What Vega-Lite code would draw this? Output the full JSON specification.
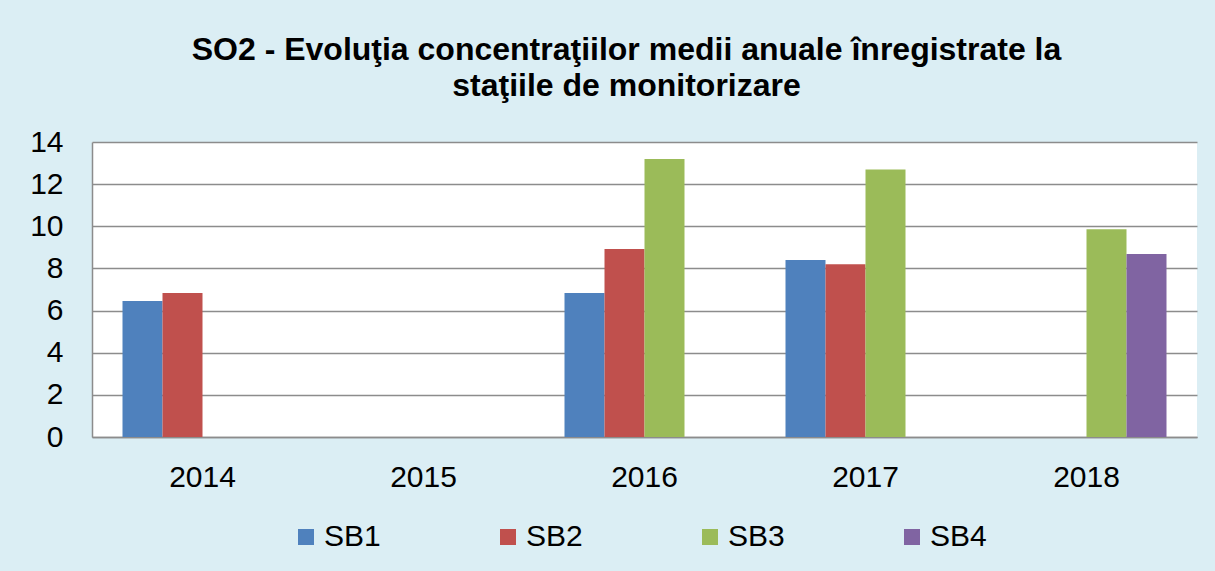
{
  "$schema": "https://vega.github.io/schema/vega-lite/v6.json",
  "autosize": {"type": "none"},
  "width": 1105,
  "height": 295,
  "padding": {"left": 92, "top": 142, "right": 18, "bottom": 134},
  "background": "#DBEEF4",
  "title": {
    "text": ["SO2 - Evoluţia concentraţiilor medii anuale înregistrate la", "staţiile de monitorizare"],
    "font": "Liberation Sans",
    "fontSize": 32,
    "fontWeight": "bold",
    "color": "#000000",
    "anchor": "middle",
    "dx": -18,
    "lineHeight": 36,
    "offset": 24
  },
  "data": {
    "values": [
      {"year": "2014", "station": "SB1", "value": 6.45},
      {"year": "2014", "station": "SB2", "value": 6.83},
      {"year": "2016", "station": "SB1", "value": 6.83},
      {"year": "2016", "station": "SB2", "value": 8.92},
      {"year": "2016", "station": "SB3", "value": 13.19},
      {"year": "2017", "station": "SB1", "value": 8.4},
      {"year": "2017", "station": "SB2", "value": 8.2},
      {"year": "2017", "station": "SB3", "value": 12.7},
      {"year": "2018", "station": "SB3", "value": 9.86},
      {"year": "2018", "station": "SB4", "value": 8.68}
    ]
  },
  "mark": {"type": "bar"},
  "encoding": {
    "x": {
      "field": "year",
      "type": "nominal",
      "scale": {"domain": ["2014", "2015", "2016", "2017", "2018"], "paddingInner": 0.276, "paddingOuter": 0.138},
      "axis": {
        "title": null,
        "labelAngle": 0,
        "labelFont": "Liberation Sans",
        "labelFontSize": 30,
        "labelColor": "#000000",
        "labelPadding": 25,
        "ticks": false,
        "domainColor": "#8C8C8C",
        "domainWidth": 1.5
      }
    },
    "xOffset": {
      "field": "station",
      "type": "nominal",
      "scale": {"domain": ["SB1", "SB2", "SB3", "SB4"], "paddingInner": 0, "paddingOuter": 0}
    },
    "y": {
      "field": "value",
      "type": "quantitative",
      "scale": {"domain": [0, 14], "nice": false},
      "axis": {
        "title": null,
        "values": [0, 2, 4, 6, 8, 10, 12, 14],
        "labelFont": "Liberation Sans",
        "labelFontSize": 30,
        "labelColor": "#000000",
        "labelPadding": 29,
        "ticks": false,
        "domainColor": "#8C8C8C",
        "domainWidth": 1.5,
        "grid": true,
        "gridColor": "#8C8C8C",
        "gridWidth": 1.5
      }
    },
    "color": {
      "field": "station",
      "type": "nominal",
      "scale": {"domain": ["SB1", "SB2", "SB3", "SB4"], "range": ["#4F81BD", "#C0504D", "#9BBB59", "#8064A2"]},
      "legend": {
        "title": null,
        "orient": "none",
        "legendX": 199,
        "legendY": 380,
        "direction": "horizontal",
        "symbolType": "square",
        "symbolSize": 256,
        "symbolStrokeWidth": 0,
        "symbolOpacity": 1,
        "labelFont": "Liberation Sans",
        "labelFontSize": 30,
        "labelColor": "#000000",
        "labelOffset": 3,
        "columnPadding": 112
      }
    }
  },
  "config": {
    "view": {"fill": "#FFFFFF", "stroke": null},
    "axis": {"gridDash": []}
  }
}
